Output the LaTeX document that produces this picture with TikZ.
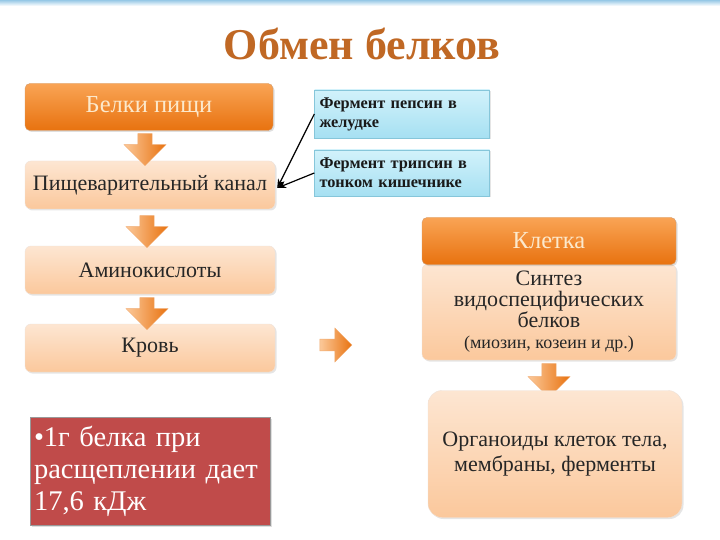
\documentclass[tikz,border=0pt]{standalone}
\usepackage{fontspec}
\setmainfont{Liberation Serif}
\usetikzlibrary{shapes.arrows,arrows.meta,shadows}
\definecolor{orTop}{HTML}{F9A455}
\definecolor{orBot}{HTML}{E8720F}
\definecolor{peTop}{HTML}{FDE6D2}
\definecolor{peBot}{HTML}{FBC89C}
\definecolor{blTop}{HTML}{D2F2FB}
\definecolor{blBot}{HTML}{A6E0F2}
\definecolor{blLine}{HTML}{86C6DA}
\definecolor{cream}{HTML}{FCE9CC}
\definecolor{redbox}{HTML}{C04B4A}
\definecolor{titlec}{HTML}{C06824}
\tikzset{
  orbox/.style={draw=orBot!80!black!60, rounded corners=5, top color=orTop, bottom color=orBot,
    minimum width=248, minimum height=47, text=cream, font=\fontsize{24.5}{26}\selectfont,
    drop shadow={opacity=0.25, shadow xshift=1.5pt, shadow yshift=-1.5pt}},
  pebox/.style={draw=peBot!80!black!30, rounded corners=6, top color=peTop, bottom color=peBot,
    minimum width=250, minimum height=48, text=black!85, font=\fontsize{22}{21}\selectfont, align=center,
    drop shadow={opacity=0.2, shadow xshift=1.5pt, shadow yshift=-1.5pt}},
  blbox/.style={draw=blLine, top color=blTop, bottom color=blBot, minimum width=175, minimum height=46,
    text width=165, align=left, font=\bfseries\fontsize{16.3}{19}\selectfont, text=black!90,
    drop shadow={opacity=0.2, shadow xshift=1pt, shadow yshift=-1pt}},
  barrow/.style={single arrow, draw=orBot!60, left color=orTop!60, right color=orBot,
    minimum width=42, single arrow head extend=10, single arrow tip angle=90, inner sep=5,
    shape border uses incircle=false},
}
\begin{document}
\begin{tikzpicture}[x=1pt,y=-1pt]
\useasboundingbox (0,0) rectangle (720,540);
\fill[white] (0,0) rectangle (720,540);
\shade[top color={rgb,255:red,150;green,200;blue,230}, bottom color=white] (0,0) rectangle (720,6);

\node[text=titlec, font=\bfseries\fontsize{44}{48}\selectfont] (title) at (362,44) {Обмен белков};

% left column
\node[orbox] (b1) at (149,107) {Белки пищи};
\node[pebox] (b2) at (150,185) {Пищеварительный канал};
\node[pebox] (b3) at (150,270) {Аминокислоты};
\node[pebox] (b4) at (150,348) {Кровь};

\node[barrow, rotate=-90, minimum height=32] (a1) at (145,146) {};
\node[barrow, rotate=-90, minimum height=32] (a2) at (147,228) {};
\node[barrow, rotate=-90, minimum height=32] (a3) at (147,310) {};
\node[barrow, minimum height=32, minimum width=34] (a4) at (333,345) {};

% enzymes
\node[blbox, minimum height=48] (f1) at (402,114) {Фермент пепсин в\\желудке};
\node[blbox] (f2) at (402,173) {Фермент трипсин в\\тонком кишечнике};
\draw[-{Stealth[length=9pt,width=7pt]}, line width=1.2pt] (f1.west) -- ([xshift=2pt,yshift=-3pt]b2.east);
\draw[-{Stealth[length=9pt,width=7pt]}, line width=1.2pt] (f2.west) -- ([xshift=2pt,yshift=-3pt]b2.east);

% right column
\node[pebox, minimum width=254, minimum height=96] (c2) at (549,312)
  {Синтез\\видоспецифических\\белков\\{\fontsize{18}{20}\selectfont(миозин, козеин и др.)}};
\node[orbox, minimum width=254] (c1) at (549,241) {Клетка};
\node[barrow, rotate=-90, minimum height=34] (a5) at (549,377) {};
\node[pebox, rounded corners=14, minimum width=254, minimum height=127, font=\fontsize{22}{25}\selectfont] (c3) at (555,454)
  {Органоиды клеток тела,\\мембраны, ферменты};

% red box
\node[fill=redbox, draw=black!40, minimum width=240, minimum height=108, text=white,
  font=\fontsize{28.5}{32}\selectfont, align=left, text width=232, inner sep=3,
  drop shadow={opacity=0.25, shadow xshift=1.5pt, shadow yshift=-1.5pt}] (r) at (150,471)
  {•1г белка при\\расщеплении дает\\17,6 кДж};
\end{tikzpicture}
\end{document}
